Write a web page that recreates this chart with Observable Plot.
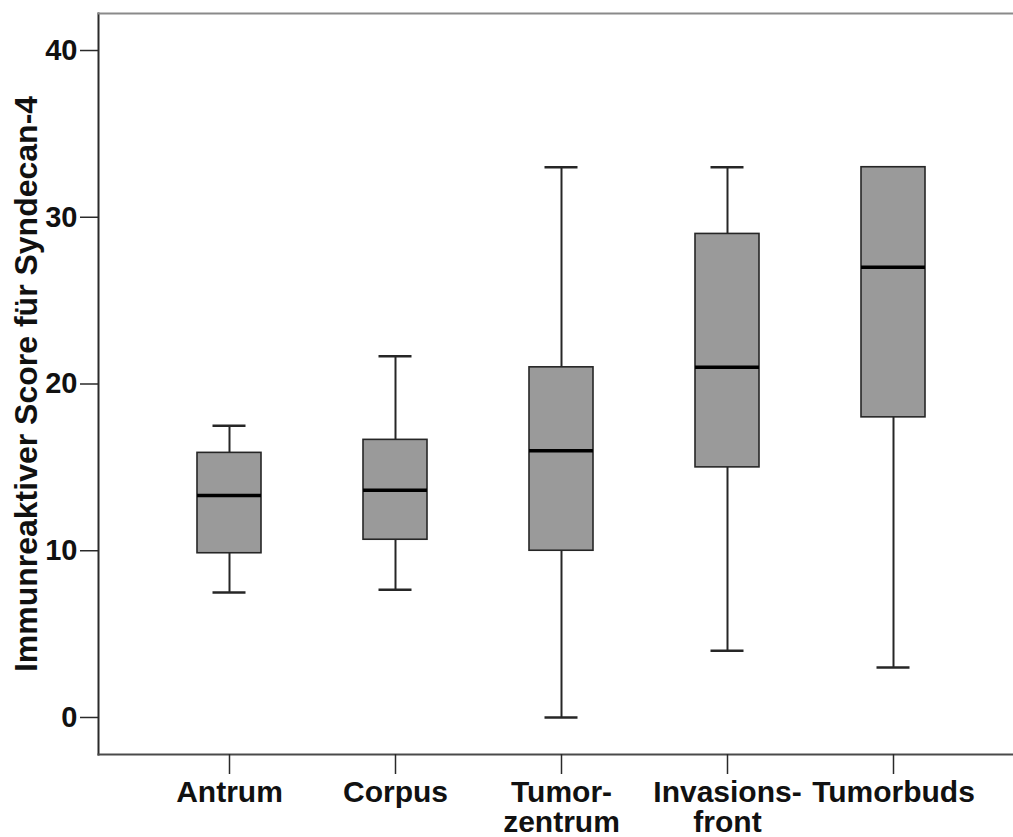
<!DOCTYPE html>
<html>
<head>
<meta charset="utf-8">
<script src="https://cdn.jsdelivr.net/npm/d3@7"></script>
<script src="https://cdn.jsdelivr.net/npm/@observablehq/plot@0.6"></script>
<style>
  html, body { margin: 0; padding: 0; background: #fff; overflow: hidden; }
</style>
</head>
<body>
<div id="chart"></div>
<script>
const categories = ["Antrum", "Corpus", "Tumor-\nzentrum", "Invasions-\nfront", "Tumorbuds"];
const whiskerLow = [7.5, 7.66, 0, 4, 3];
const q1 = [9.85, 10.66, 10, 15, 18];
const median = [13.31, 13.63, 16, 21, 27];
const q3 = [15.87, 16.65, 21, 29, 33];
const whiskerHigh = [17.5, 21.67, 33, 33, 33];
const yTicks = [0, 10, 20, 30, 40];
const yTitle = "Immunreaktiver Score für Syndecan-4";

const data = categories.map((c, i) => ({
  cat: c, lo: whiskerLow[i], q1: q1[i], med: median[i], q3: q3[i], hi: whiskerHigh[i]
}));

const strokeC = "#262626";
const chart = Plot.plot({
  width: 1013,
  height: 837,
  marginLeft: 98,
  marginRight: 0,
  marginTop: 13,
  marginBottom: 83,
  style: { fontFamily: "'Liberation Sans', Arial, sans-serif", fontWeight: "bold", fontSize: "28px", color: "#111", background: "#fff" },
  x: { type: "band", domain: categories, range: [98, 1023], paddingInner: 0.615, paddingOuter: 0.59 },
  y: { domain: [-2.22, 42.22] },
  marks: [
    Plot.ruleX(data, { x: "cat", y1: "lo", y2: "q1", stroke: strokeC, strokeWidth: 2 }),
    Plot.ruleX(data, { x: "cat", y1: "q3", y2: "hi", stroke: strokeC, strokeWidth: 2 }),
    Plot.tickY(data, { x: "cat", y: "lo", stroke: strokeC, strokeWidth: 2.5, insetLeft: 15.5, insetRight: 15.5 }),
    Plot.tickY(data, { x: "cat", y: "hi", stroke: strokeC, strokeWidth: 2.5, insetLeft: 15.5, insetRight: 15.5 }),
    Plot.barY(data, { x: "cat", y1: "q1", y2: "q3", fill: "#9a9a9a", stroke: strokeC, strokeWidth: 1.6 }),
    Plot.tickY(data, { x: "cat", y: "med", stroke: "#000", strokeWidth: 3.5 }),
    Plot.frame({ anchor: "left", stroke: "#2a2a2a", strokeWidth: 2 }),
    Plot.frame({ anchor: "top", stroke: "#8a8a8a", strokeWidth: 2 }),
    Plot.frame({ anchor: "bottom", stroke: "#4a4a4a", strokeWidth: 2 }),
    Plot.axisY({ ticks: yTicks, tickSize: 18, tickPadding: 3, stroke: "#2a2a2a", strokeWidth: 1.5,
      label: null, fill: "#111", fontSize: 29 }),
    Plot.text([yTitle], { frameAnchor: "left", rotate: -90, dx: -72, fontSize: 32, fontWeight: "bold", fill: "#111", textAnchor: "middle" }),
    Plot.axisX({ tickSize: 20, tickPadding: 6, stroke: "#2a2a2a", strokeWidth: 1.5, label: null, fill: "#111", fontSize: 30, lineHeight: 1.0 })
  ]
});
document.getElementById("chart").appendChild(chart);
</script>
</body>
</html>
